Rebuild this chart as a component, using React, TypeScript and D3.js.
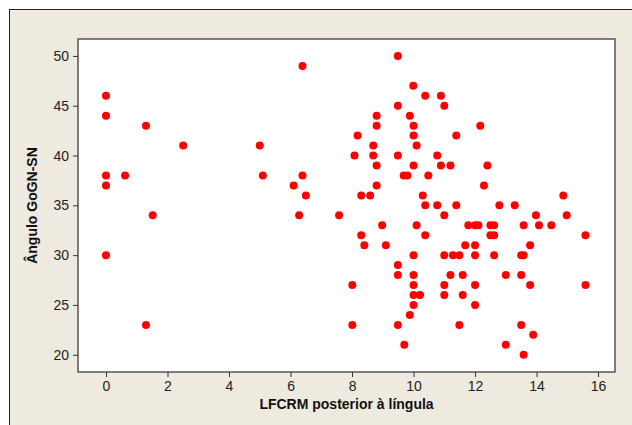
import React, { useRef, useEffect } from "react";
import * as d3 from "d3";

// LFCRM posterior à língula (x) vs Ângulo GoGN-SN (y)
const lfcrm: number[] = [
  0, 0, 0, 0, 0, 0.62, 1.3, 1.3, 1.52, 2.51,
  5.0, 5.1, 6.1, 6.28, 6.39, 6.39, 6.5, 7.58, 8.01, 8.01,
  8.08, 8.18, 8.3, 8.3, 8.4, 8.59, 8.69, 8.69, 8.8, 8.8,
  8.8, 8.8, 8.98, 9.1, 9.49, 9.49, 9.49, 9.49, 9.49, 9.49,
  9.68, 9.8, 9.7, 9.88, 9.88, 9.99, 10, 10, 10, 10,
  10, 10, 10, 10, 10.1, 10.1, 10.21, 10.3, 10.38, 10.38,
  10.38, 10.48, 10.77, 10.77, 10.89, 10.89, 11, 11, 11, 11,
  11, 11.2, 11.2, 11.28, 11.39, 11.39, 11.49, 11.49, 11.6, 11.6,
  11.68, 11.78, 12, 12, 12, 12, 12, 12.11, 12.17, 12.29,
  12.4, 12.5, 12.5, 12.62, 12.62, 12.62, 12.79, 13, 13, 13.29,
  13.5, 13.5, 13.5, 13.58, 13.58, 13.58, 13.79, 13.79, 13.89, 13.98,
  14.08, 14.48, 14.87, 14.98, 15.59, 15.59,
];

const angulo: number[] = [
  46, 44, 38, 37, 30, 38, 43, 23, 34, 41,
  41, 38, 37, 34, 49, 38, 36, 34, 27, 23,
  40, 42, 36, 32, 31, 36, 41, 40, 44, 43,
  39, 37, 33, 31, 50, 45, 40, 29, 28, 23,
  38, 38, 21, 44, 24, 47, 43, 42, 39, 30,
  28, 27, 26, 25, 41, 33, 26, 36, 46, 35,
  32, 38, 40, 35, 46, 39, 45, 34, 30, 27,
  26, 39, 28, 30, 42, 35, 30, 23, 28, 26,
  31, 33, 33, 31, 30, 27, 25, 33, 43, 37,
  39, 33, 32, 33, 32, 30, 35, 28, 21, 35,
  30, 28, 23, 33, 30, 20, 31, 27, 22, 34,
  33, 33, 36, 34, 32, 27,
];

const xTicks = [0, 2, 4, 6, 8, 10, 12, 14, 16];
const yTicks = [20, 25, 30, 35, 40, 45, 50];

const W = 632;
const H = 425;
const plot = { left: 78, top: 39, right: 615, bottom: 372 };

export default function App() {
  const ref = useRef<SVGSVGElement>(null);

  useEffect(() => {
    const svg = d3.select(ref.current);
    svg.selectAll("*").remove();

    const x = d3
      .scaleLinear()
      .domain([-0.91, 16.55])
      .range([plot.left, plot.right]);
    const y = d3
      .scaleLinear()
      .domain([18.27, 51.7])
      .range([plot.bottom, plot.top]);

    // outer panel (clipped at right/bottom like the source)
    svg.append("rect").attr("width", W).attr("height", H).attr("fill", "#ffffff");
    svg
      .append("rect")
      .attr("x", 9.5)
      .attr("y", 9.5)
      .attr("width", W + 10)
      .attr("height", H + 10)
      .attr("fill", "#eeeae0")
      .attr("stroke", "#222")
      .attr("stroke-width", 1);

    svg
      .append("rect")
      .attr("x", plot.left)
      .attr("y", plot.top)
      .attr("width", plot.right - plot.left)
      .attr("height", plot.bottom - plot.top)
      .attr("fill", "#ffffff")
      .attr("stroke", "#555")
      .attr("stroke-width", 1.5);

    const font = "Tahoma, 'DejaVu Sans Condensed', 'Liberation Sans', sans-serif";

    const xAxis = svg
      .append("g")
      .attr("transform", `translate(0,${plot.bottom})`)
      .call(d3.axisBottom(x).tickValues(xTicks).tickSize(5).tickPadding(4).tickFormat(d3.format("d")));
    const yAxis = svg
      .append("g")
      .attr("transform", `translate(${plot.left},0)`)
      .call(d3.axisLeft(y).tickValues(yTicks).tickSize(5).tickPadding(4).tickFormat(d3.format("d")));

    [xAxis, yAxis].forEach((g) => {
      g.select(".domain").remove();
      g.selectAll(".tick line").attr("stroke", "#333");
      g.selectAll(".tick text")
        .attr("fill", "#222")
        .style("font-family", "'Liberation Sans', sans-serif")
        .style("font-size", "14px");
    });

    svg
      .append("g")
      .selectAll("circle")
      .data(lfcrm.map((v, i) => [v, angulo[i]]))
      .enter()
      .append("circle")
      .attr("cx", (d) => x(d[0]))
      .attr("cy", (d) => y(d[1]))
      .attr("r", 4)
      .attr("fill", "#ff0000");

    svg
      .append("text")
      .attr("x", (plot.left + plot.right) / 2)
      .attr("y", 409)
      .attr("text-anchor", "middle")
      .style("font-family", "'Liberation Sans', sans-serif")
      .style("font-size", "14px")
      .style("font-weight", 700)
      .attr("fill", "#111")
      .text("LFCRM posterior à língula");

    svg
      .append("text")
      .attr("transform", `translate(37,${(plot.top + plot.bottom) / 2}) rotate(-90)`)
      .attr("text-anchor", "middle")
      .style("font-family", "'Liberation Sans', sans-serif")
      .style("font-size", "14px")
      .style("font-weight", 700)
      .attr("fill", "#111")
      .text("Ângulo GoGN-SN");
  }, []);

  return (
    <svg
      ref={ref}
      width={W}
      height={H}
      style={{ position: "absolute", left: 0, top: 0, display: "block" }}
    />
  );
}
